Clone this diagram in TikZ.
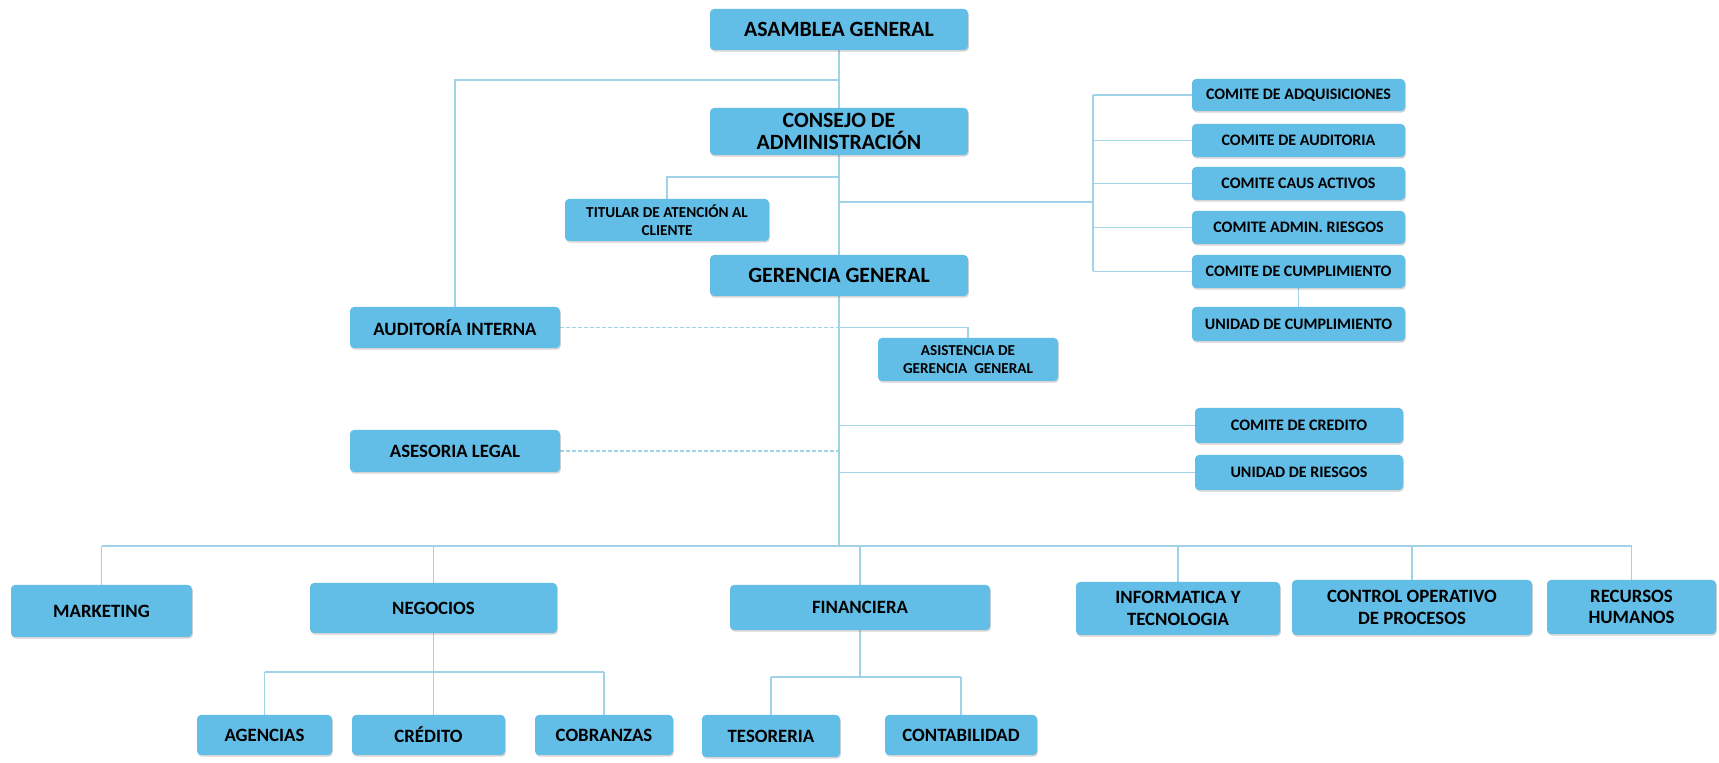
\documentclass[tikz,border=0pt]{standalone}
\usepackage{fontspec}
\setmainfont{Carlito}
\usetikzlibrary{shadows}
\pgfdeclarelayer{bg}
\pgfdeclarelayer{lines}
\pgfsetlayers{bg,lines,main}

\definecolor{boxblue}{RGB}{98,189,231}
\definecolor{linkblue}{RGB}{160,210,232}

\tikzset{
  orgbox/.style={draw=none, fill=boxblue, rounded corners=2pt, inner sep=0pt,
    align=center, text=black,
    drop shadow={shadow xshift=0.4pt, shadow yshift=-0.8pt, opacity=0.3, fill=black!55}},
  bigtxt/.style={font=\fontsize{10.9}{11.4}\selectfont\bfseries},
  midtxt/.style={font=\fontsize{9.4}{10.8}\selectfont\bfseries},
  smalltxt/.style={font=\fontsize{8}{8.6}\selectfont\bfseries},
  tinytxt/.style={font=\fontsize{7.6}{9}\selectfont\bfseries},
  link/.style={draw=linkblue, line width=0.55pt},
  dlink/.style={link, dash pattern=on 2pt off 1pt},
}

% \orgunit{name}{x1}{y1}{x2}{y2}{text style}{label}
\newcommand\orgunit[7]{%
  \node[orgbox, #6, minimum width={(#4-#2)*0.5pt}, minimum height={(#5-#3)*0.5pt}]
    (#1) at ({(#2+#4)/2},{(#3+#5)/2}) {#7};}

\begin{document}
\begin{tikzpicture}[x=0.5pt, y=-0.5pt]
\begin{pgfonlayer}{bg}
  \fill[white] (0,0) rectangle (1719,763);
\end{pgfonlayer}
\useasboundingbox (0,0) rectangle (1719,763);

% governing bodies
\orgunit{asamblea}{710}{9}{968}{50}{bigtxt}{ASAMBLEA GENERAL}
\orgunit{consejo}{710}{108}{968}{155}{bigtxt}{CONSEJO DE\\ADMINISTRACIÓN}
\orgunit{titular}{565}{199}{769}{241}{tinytxt}{TITULAR DE ATENCIÓN AL\\CLIENTE}
\orgunit{gerencia}{710}{255}{968}{296}{bigtxt}{GERENCIA GENERAL}

% staff units
\orgunit{auditoria}{350}{307}{560}{348}{midtxt}{AUDITORÍA INTERNA}
\orgunit{asesoria}{350}{430}{560}{472}{midtxt}{ASESORIA LEGAL}
\orgunit{asistencia}{878}{338}{1058}{381}{tinytxt}{ASISTENCIA DE\\GERENCIA\ \ GENERAL}

% committees
\orgunit{adq}{1192}{79}{1405}{111}{smalltxt}{COMITE DE ADQUISICIONES}
\orgunit{aud}{1192}{124}{1405}{157}{smalltxt}{COMITE DE AUDITORIA}
\orgunit{caus}{1192}{167}{1405}{200}{smalltxt}{COMITE CAUS ACTIVOS}
\orgunit{admin}{1192}{211}{1405}{244}{smalltxt}{COMITE ADMIN. RIESGOS}
\orgunit{cumpl}{1192}{255}{1405}{288}{smalltxt}{COMITE DE CUMPLIMIENTO}
\orgunit{unidadc}{1192}{307}{1405}{341}{smalltxt}{UNIDAD DE CUMPLIMIENTO}
\orgunit{credcom}{1195}{408}{1403}{443}{smalltxt}{COMITE DE CREDITO}
\orgunit{riesgos}{1195}{455}{1403}{490}{smalltxt}{UNIDAD DE RIESGOS}

% departments
\orgunit{marketing}{11}{585}{192}{637}{midtxt}{MARKETING}
\orgunit{negocios}{310}{583}{557}{633}{midtxt}{NEGOCIOS}
\orgunit{financiera}{730}{585}{990}{630}{midtxt}{FINANCIERA}
\orgunit{informatica}{1076}{582}{1280}{635}{midtxt}{INFORMATICA Y\\TECNOLOGIA}
\orgunit{control}{1292}{580}{1532}{635}{midtxt}{CONTROL OPERATIVO\\DE PROCESOS}
\orgunit{recursos}{1547}{580}{1716}{634}{midtxt}{RECURSOS\\HUMANOS}

% sections
\orgunit{agencias}{197}{715}{332}{755}{midtxt}{AGENCIAS}
\orgunit{credito}{352}{715}{505}{755}{midtxt}{CRÉDITO}
\orgunit{cobranzas}{535}{715}{673}{755}{midtxt}{COBRANZAS}
\orgunit{tesoreria}{702}{715}{840}{757}{midtxt}{TESORERIA}
\orgunit{contabilidad}{885}{715}{1037}{755}{midtxt}{CONTABILIDAD}

% junction points
\coordinate (jAud) at (839,80);
\coordinate (jTit) at (839,177);
\coordinate (jCom) at (839,202);
\coordinate (brk) at (1093,202);
\coordinate (spine) at (839,546);
\coordinate (negBus) at (0,672);
\coordinate (finBus) at (0,677);

\begin{pgfonlayer}{lines}
  \draw[link] (asamblea.south) -- (spine);
  \draw[link] (jAud) -| (auditoria.north);
  \draw[link] (jTit) -| (titular.north);
  \draw[link] (jCom) -- (brk);
  \draw[link] (brk |- adq.west) -- (brk |- cumpl.west);
  \foreach \c in {adq,aud,caus,admin,cumpl}
    \draw[link] (brk |- \c.west) -- (\c.west);
  \draw[link] (cumpl.south) -- (unidadc.north);
  \draw[dlink] (auditoria.east) -- (auditoria.east -| spine);
  \draw[link] (auditoria.east -| spine) -| (asistencia.north);
  \draw[dlink] (asesoria.east) -- (asesoria.east -| spine);
  \draw[link] (credcom.west -| spine) -- (credcom.west);
  \draw[link] (riesgos.west -| spine) -- (riesgos.west);
  \draw[link] (marketing.north |- spine) -- (recursos.north |- spine);
  \foreach \c in {marketing,negocios,financiera,informatica,control,recursos}
    \draw[link] (\c.north |- spine) -- (\c.north);
  \draw[link] (negocios.south) -- (negocios.south |- credito.north);
  \draw[link] (agencias.north |- negBus) -- (cobranzas.north |- negBus);
  \draw[link] (agencias.north |- negBus) -- (agencias.north);
  \draw[link] (cobranzas.north |- negBus) -- (cobranzas.north);
  \draw[link] (financiera.south) -- (financiera.south |- finBus);
  \draw[link] (tesoreria.north |- finBus) -- (contabilidad.north |- finBus);
  \draw[link] (tesoreria.north |- finBus) -- (tesoreria.north);
  \draw[link] (contabilidad.north |- finBus) -- (contabilidad.north);
\end{pgfonlayer}
\end{tikzpicture}
\end{document}
